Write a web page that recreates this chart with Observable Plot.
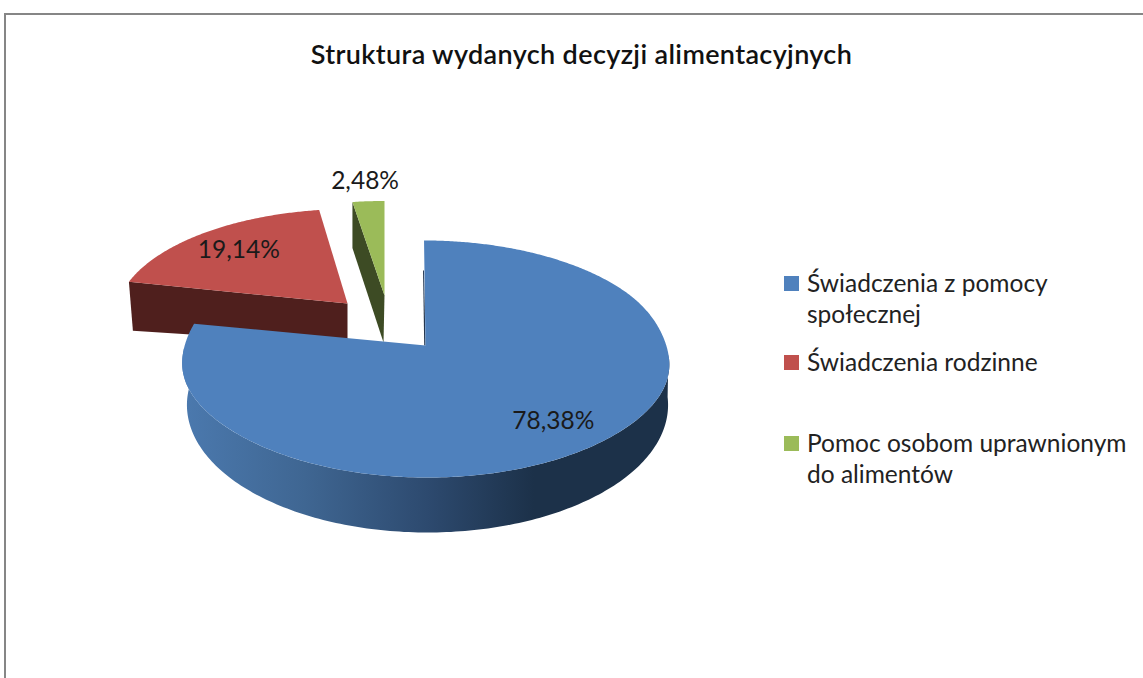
<!DOCTYPE html>
<html lang="pl">
<head>
<meta charset="utf-8">
<script src="https://cdn.jsdelivr.net/npm/d3@7"></script>
<script src="https://cdn.jsdelivr.net/npm/@observablehq/plot@0.6"></script>
<style>
  html, body { margin: 0; padding: 0; background: #fff; width: 1143px; height: 678px; overflow: hidden; }
  #frame { position: absolute; left: 4px; top: 13px; width: 1139px; height: 665px; border-left: 2px solid #868686; border-top: 2px solid #868686; box-sizing: border-box; }
  #chart { position: absolute; left: 0; top: 0; }
  #chart svg { display: block; }
  #title { position: absolute; left: 0; width: 1163px; top: 39px; text-align: center; font: 600 27px/30px Lato, sans-serif; letter-spacing: 0.36px; color: #111; white-space: nowrap; }
  #legend { position: absolute; left: 784px; top: 0; font: 400 24.5px/31px Lato, sans-serif; color: #222; }
  .item { position: absolute; left: 0; white-space: nowrap; }
  .sw { position: absolute; left: 0; top: 7px; width: 15px; height: 15px; }
  .tx { position: absolute; left: 23px; top: -2px; }
</style>
</head>
<body>
<div id="frame"></div>
<div id="chart"></div>
<div id="title"></div>
<div id="legend"></div>
<script>
const titleText = "Struktura wydanych decyzji alimentacyjnych";
const categories = ["Świadczenia z pomocy\nspołecznej", "Świadczenia rodzinne", "Pomoc osobom uprawnionym\ndo alimentów"];
const values = [78.38, 19.14, 2.48];
const valueLabels = ["78,38%", "19,14%", "2,48%"];
const topColors = ["#4f81bd", "#c0504d", "#9bbb59"];
const sideColors = ["url(#blueSide)", "#4f1f1d", "#3d4b24"];
const legendTops = [269, 348, 429];

// Layout of the exploded pie
const apexX = [425, 347, 384];
const apexY = [345, 303, 295];
const scaleX = [1, 0.95, 0.95];
const scaleY = [1, 0.9, 0.9];
const skew = [0.014, -0.04, 0];
const sag = [5, 0, 0];
const radiusX = 242, radiusY = 117, persp = 0.114;
const labelRadius = [0.76, 0.76, 1.21];

// Slice angle spans from the values (clockwise from 12 o'clock)
const total = d3.sum(values);
const spans = [];
values.reduce((a, v, i) => { spans[i] = [a, a + v / total * 360]; return a + v / total * 360; }, 0);

function rim(i, deg, r = 1) {
  const t = deg * Math.PI / 180, u = Math.sin(t), v = Math.cos(t), w = 1 + persp * v;
  const X = scaleX[i] * radiusX * u / w;
  const s = Math.max(0, Math.min(1, (0.55 - v) / 0.65));
  const weight = s * s * (3 - 2 * s);
  const Y = -scaleY[i] * radiusY * v / w + sag[i] * Math.pow(u, 8) * weight;
  return {x: apexX[i] + r * (X + skew[i] * Y), y: apexY[i] + r * Y};
}
function lowerRim(deg) {
  const t = deg * Math.PI / 180, u = Math.sin(t), v = Math.cos(t), w = 1 + persp * v;
  return {x: 427 + 239 * u / w, y: 390 - 125.8 * v / w};
}
function topFace(i) {
  const [a, b] = spans[i];
  const arc = d3.range(a, b, 0.5).concat(b).map(d => rim(i, d));
  return [{x: apexX[i], y: apexY[i]}, ...arc];
}
const shift = (p, dx, dy) => ({x: p.x + dx, y: p.y + dy});
const apex = i => ({x: apexX[i], y: apexY[i]});

const blueSide = [
  ...d3.range(92, 272, 1).map(d => rim(0, d)),
  ...d3.range(272, 92, -1).map(d => lowerRim(d))
];
const redSide = [rim(1, spans[1][0]), apex(1), shift(apex(1), 0, 41), shift(rim(1, spans[1][0]), 4, 49)];
const greenSide = [rim(2, spans[2][0]), apex(2), shift(apex(2), -1, 47), shift(rim(2, spans[2][0]), 0, 46)];
const blueWall = [shift(rim(0, 360), 0, 30), apex(0), shift(apex(0), -1.3, 0), shift(rim(0, 360), -1, 30)];

const poly = (data, fill) => Plot.line(data, {x: "x", y: "y", fill, stroke: "none", curve: "linear"});
const labels = values.map((v, i) => ({
  ...rim(i, (spans[i][0] + spans[i][1]) / 2, labelRadius[i]),
  text: valueLabels[i]
}));

const defs = () => {
  const ns = "http://www.w3.org/2000/svg";
  const d = document.createElementNS(ns, "defs");
  const g = document.createElementNS(ns, "linearGradient");
  g.setAttribute("id", "blueSide");
  g.setAttribute("gradientUnits", "userSpaceOnUse");
  g.setAttribute("x1", 183); g.setAttribute("x2", 670); g.setAttribute("y1", 0); g.setAttribute("y2", 0);
  [[0, "#4b79ae"], [0.25, "#3f6692"], [0.5, "#2d4a6f"], [0.72, "#1c3149"], [1, "#1c3149"]].forEach(([o, c]) => {
    const s = document.createElementNS(ns, "stop");
    s.setAttribute("offset", o); s.setAttribute("stop-color", c);
    g.appendChild(s);
  });
  d.appendChild(g);
  return d;
};

const plot = Plot.plot({
  width: 1143, height: 678,
  margin: 0,
  style: {background: "transparent", overflow: "visible"},
  x: {type: "linear", domain: [0, 1143], range: [0, 1143], axis: null},
  y: {type: "linear", domain: [0, 678], range: [0, 678], axis: null},
  marks: [
    defs,
    poly(redSide, sideColors[1]),
    poly(topFace(1), topColors[1]),
    poly(greenSide, sideColors[2]),
    poly(topFace(2), topColors[2]),
    poly(blueWall, "#24364f"),
    poly(blueSide, sideColors[0]),
    poly(topFace(0), topColors[0]),
    Plot.text(labels, {x: "x", y: "y", text: "text", fontSize: 24.5, fontFamily: "Lato, sans-serif", fill: "#1a1a1a"})
  ]
});
document.getElementById("chart").appendChild(plot);
document.getElementById("title").textContent = titleText;

const legend = document.getElementById("legend");
categories.forEach((c, i) => {
  const item = document.createElement("div");
  item.className = "item";
  item.style.top = legendTops[i] + "px";
  const sw = document.createElement("div");
  sw.className = "sw";
  sw.style.background = topColors[i];
  const tx = document.createElement("div");
  tx.className = "tx";
  tx.style.whiteSpace = "pre";
  tx.textContent = c;
  item.append(sw, tx);
  legend.appendChild(item);
});
</script>
</body>
</html>
